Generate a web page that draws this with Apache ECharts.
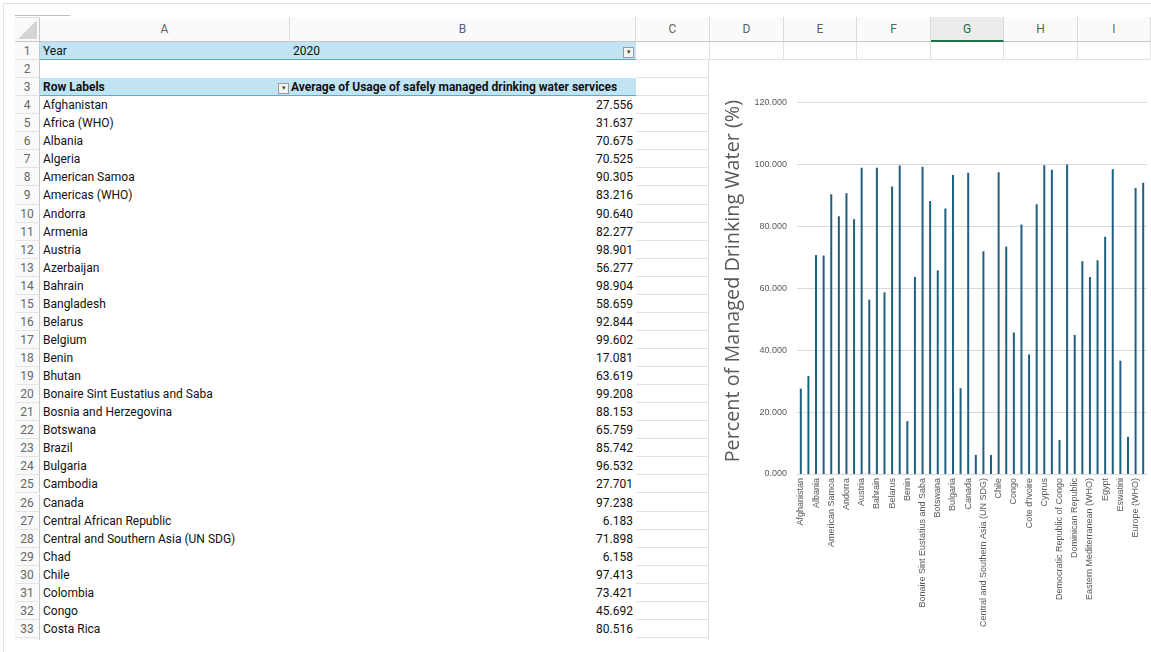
<!DOCTYPE html>
<html>
<head>
<meta charset="utf-8">
<script src="https://cdn.jsdelivr.net/npm/echarts@6/dist/echarts.min.js"></script>
<style>
  html, body { margin: 0; padding: 0; background: #fff; }
  body { width: 1151px; height: 652px; position: relative; overflow: hidden; font-family: Roboto, "Liberation Sans", sans-serif; }
  .abs { position: absolute; box-sizing: border-box; }
  #sheet { position: absolute; left: 15px; top: 15px; width: 1136px; height: 625px; overflow: hidden; }
  .colh { position: absolute; top: 2px; height: 25px; line-height: 25px; text-align: center; font-size: 12px; color: #5f5f5f;
          background: #fafafa; border-right: 1px solid #dadada; border-bottom: 1px solid #c6c6c6; box-sizing: border-box; }
  .rowh { position: absolute; left: 0; width: 25px; text-align: center; font-size: 12px; color: #666;
          background: #fafafa; border-right: 1px solid #c6c6c6; border-bottom: 1px solid #e4e4e4; box-sizing: border-box; }
  .cell { position: absolute; font-size: 12px; color: #111; white-space: nowrap; box-sizing: border-box; padding: 0 3px; }
  .grid { border-right: 1px solid #e1e1e1; border-bottom: 1px solid #e1e1e1; }
  .btn { position: absolute; width: 11px; height: 11px; border: 1px solid #9a9a9a; background: #f4f4f4; box-sizing: border-box;
         font-size: 7px; line-height: 9px; text-align: center; color: #444; }
</style>
</head>
<body>
<div class="abs" style="left:3px;top:3px;width:1148px;height:649px;border-left:1px solid #e2e2e2;border-top:1px solid #e2e2e2;"></div>
<div class="abs" style="left:15px;top:15px;width:55px;height:1px;background:#bdbdbd;"></div>
<div id="sheet"></div>
<script>
// ---------------- data ----------------
const categories = [
  "Afghanistan", "Africa (WHO)", "Albania", "Algeria", "American Samoa", "Americas (WHO)",
  "Andorra", "Armenia", "Austria", "Azerbaijan", "Bahrain", "Bangladesh", "Belarus", "Belgium",
  "Benin", "Bhutan", "Bonaire Sint Eustatius and Saba", "Bosnia and Herzegovina", "Botswana",
  "Brazil", "Bulgaria", "Cambodia", "Canada", "Central African Republic",
  "Central and Southern Asia (UN SDG)", "Chad", "Chile", "Colombia", "Congo", "Costa Rica",
  "Cote d'Ivoire", "Croatia", "Cyprus", "Czechia", "Democratic Republic of Congo", "Denmark",
  "Dominican Republic", "Eastern and South-Eastern Asia (UN SDG)", "Eastern Mediterranean (WHO)",
  "Ecuador", "Egypt", "Estonia", "Eswatini", "Ethiopia", "Europe (WHO)",
  "Europe and Northern America (UN SDG)"
];
const values = [
  27.556, 31.637, 70.675, 70.525, 90.305, 83.216,
  90.640, 82.277, 98.901, 56.277, 98.904, 58.659, 92.844, 99.602,
  17.081, 63.619, 99.208, 88.153, 65.759,
  85.742, 96.532, 27.701, 97.238, 6.183,
  71.898, 6.158, 97.413, 73.421, 45.692, 80.516,
  38.6, 87.1, 99.7, 98.2, 11.0, 99.9,
  44.9, 68.7, 63.6,
  69.0, 76.6, 98.4, 36.6, 12.0, 92.3,
  94.0
];
const columnLetters = ["A", "B", "C", "D", "E", "F", "G", "H", "I"];
const yearLabel = "Year";
const yearValue = "2020";
const rowLabelsHeader = "Row Labels";
const valueHeader = "Average of Usage of safely managed drinking water services";
const yAxisTitle = "Percent of Managed Drinking Water (%)";
const yTicks = { min: 0, max: 120, interval: 20 };

// ---------------- sheet layout ----------------
const sheet = document.getElementById('sheet');
const colEdges = [25, 275, 621, 695, 769, 842, 916, 989, 1063, 1136]; // relative to sheet left (15px)
const A0 = colEdges[0], B0 = colEdges[1], C0 = colEdges[2], D0 = colEdges[3];
const rowTop0 = 27, rowH = 18.06;
function el(cls, style, html) {
  const d = document.createElement('div');
  d.className = cls; d.setAttribute('style', style);
  if (html !== undefined) d.innerHTML = html;
  sheet.appendChild(d); return d;
}
function rowTop(r) { return rowTop0 + (r-1)*rowH; }
// corner
el('abs', 'left:0;top:2px;width:25px;height:25px;background:#fafafa;border-right:1px solid #c6c6c6;border-bottom:1px solid #c6c6c6;');
el('abs', 'left:3px;top:5px;width:0;height:0;border-left:19px solid transparent;border-bottom:19px solid #d4d4d4;');
el('abs', 'left:0;top:2px;width:1136px;height:1px;background:#e0e0e0;');
// column headers
columnLetters.forEach((c, i) => {
  const sel = c === 'G';
  el('colh', `left:${colEdges[i]}px;width:${colEdges[i+1]-colEdges[i]}px;` +
    (sel ? 'background:#ececec;color:#1e7145;border-bottom:2px solid #1e7145;' : ''), c);
});
// row headers
for (let r = 1; r <= 34; r++) {
  el('rowh', `top:${rowTop(r)}px;height:${rowH}px;line-height:${rowH}px;`, String(r));
}
// C column gridlines all rows; D..I row 1
for (let r = 1; r <= 34; r++) {
  el('cell grid', `left:${C0}px;top:${rowTop(r)}px;width:${D0-C0}px;height:${rowH}px;`);
}
for (let i = 3; i < 9; i++) {
  el('cell grid', `left:${colEdges[i]}px;top:${rowTop(1)}px;width:${colEdges[i+1]-colEdges[i]}px;height:${rowH}px;`);
}
// pivot header rows
const blue = '#c0e4f4', blueLine = '#5aa9d6';
[1, 3].forEach(r => {
  el('abs', `left:${A0}px;top:${rowTop(r)}px;width:${C0-A0}px;height:${rowH}px;background:${blue};border-bottom:1px solid ${blueLine};`);
});
const lh = `height:${rowH}px;line-height:${rowH}px;`;
el('cell', `left:${A0}px;top:${rowTop(1)}px;${lh}`, yearLabel);
el('cell', `left:${B0}px;top:${rowTop(1)}px;${lh}`, yearValue);
el('btn', `left:${C0-13}px;top:${rowTop(1)+5}px;`, '&#9662;');
el('cell', `left:${A0}px;top:${rowTop(3)}px;${lh}font-weight:bold;`, rowLabelsHeader);
el('btn', `left:${B0-12}px;top:${rowTop(3)+5}px;`, '&#9662;');
el('cell', `left:${B0-2}px;top:${rowTop(3)}px;${lh}font-weight:bold;`, valueHeader);
// data rows (first 30 categories visible)
for (let i = 0; i < 30; i++) {
  const r = 4 + i;
  el('cell', `left:${A0}px;top:${rowTop(r)}px;${lh}`, categories[i]);
  el('cell', `left:${B0}px;top:${rowTop(r)}px;width:${C0-B0}px;${lh}text-align:right;`, values[i].toFixed(3));
}
const chartDiv = el('', 'position:absolute;left:693px;top:46px;width:450px;height:579px;background:#fff;border-left:1px solid #dcdcdc;box-sizing:border-box;');
chartDiv.id = 'chart';

// ---------------- chart ----------------
const chart = echarts.init(chartDiv, null, { renderer: 'canvas' });
const gray = '#595959';
chart.setOption({
  animation: false,
  grid: { left: 88, top: 41.3, width: 350, height: 371.7, containLabel: false },
  xAxis: {
    type: 'category',
    data: categories,
    axisLine: { show: true, lineStyle: { color: '#d9d9d9', width: 1 } },
    axisTick: { show: false },
    axisLabel: { interval: 1, rotate: 90, fontSize: 9, color: gray, margin: 4, fontFamily: 'Liberation Sans' }
  },
  yAxis: {
    type: 'value',
    min: yTicks.min, max: yTicks.max, interval: yTicks.interval,
    name: yAxisTitle,
    nameLocation: 'middle',
    nameGap: 43,
    nameTextStyle: { fontSize: 19.8, color: gray, fontFamily: 'Open Sans', padding: [0, 0, 0, 14] },
    axisLine: { show: false },
    axisTick: { show: false },
    splitLine: { lineStyle: { color: '#d9d9d9', width: 1 } },
    axisLabel: { fontSize: 9, color: gray, margin: 10, fontFamily: 'Liberation Sans', formatter: v => v.toFixed(3) }
  },
  series: [{
    type: 'bar',
    data: values,
    barWidth: 2,
    itemStyle: { color: '#1f6080' }
  }]
});
</script>
</body>
</html>
